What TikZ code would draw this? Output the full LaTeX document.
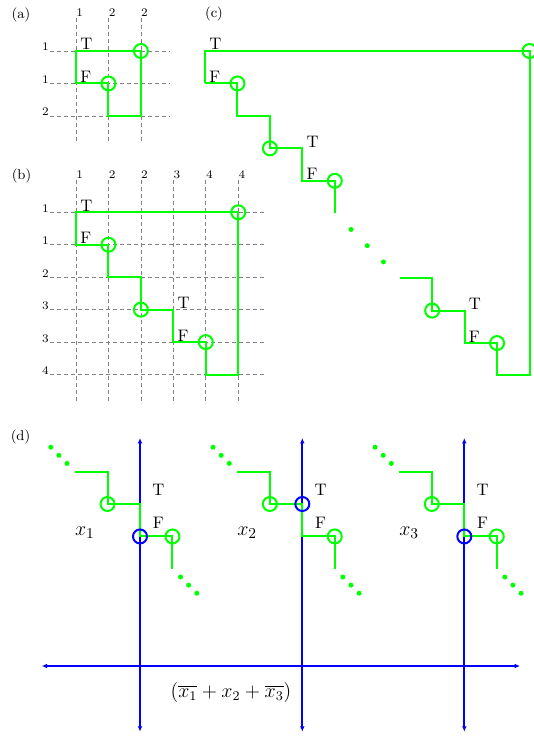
\documentclass[tikz,border=0pt]{standalone}
\usetikzlibrary{arrows.meta}
\newcommand\dgrp[4]{%
\begin{scope}[shift={(#1,504)}, x=19.47pt, y=-19.47pt]
 \draw[gline] (-2,-1) -- (-1,-1) -- (-1,0) -- (0,0) -- (0,1) -- (1,1) -- (1,2);
 \node[gcirc] (#4c1) at (-1,0) {};
 \node[gcirc] (#4c2) at (1,1) {};
 \node[bcirc] (#4b) at (0,#2) {};
 \foreach \t in {0,1,2} {
   \node[gdot] (#4u\t) at ({-2.75+0.25*\t},{-1.75+0.25*\t}) {};
   \node[gdot] (#4l\t) at ({1.25+0.25*\t},{2.25+0.25*\t}) {};
 }
 \node[dlab] (#4T) at (0.565,-0.43) {T};
 \node[dlab] (#4F) at (0.565,0.57) {F};
 \node[font=\fontsize{12.5}{15}\selectfont, inner sep=0] (#4x) at (-1.7,0.88) {$#3$};
\end{scope}}
\begin{document}
\begin{tikzpicture}[x=0.6pt,y=-0.6pt,
  gline/.style={draw=green, line width=1.2pt},
  gridl/.style={draw=gray, line width=0.45pt, dash pattern=on 2.4pt off 1.8pt},
  gcirc/.style={circle, draw=green, line width=1.2pt, minimum size=8.4pt, inner sep=0},
  bcirc/.style={circle, draw=blue, line width=1.2pt, minimum size=8.4pt, inner sep=0},
  gdot/.style={circle, fill=green, minimum size=3pt, inner sep=0},
  lab/.style={anchor=base west, inner sep=0, xshift=2.4pt, yshift=0.6pt, font=\fontsize{10}{12}\selectfont},
  dlab/.style={inner sep=0, font=\fontsize{10}{12}\selectfont},
  collab/.style={anchor=south west, inner sep=0, yshift=0.6pt, font=\fontsize{7}{8}\selectfont},
  rowlab/.style={anchor=base east, inner sep=0, xshift=-0.6pt, font=\fontsize{7}{8}\selectfont},
  panel/.style={inner sep=0, font=\fontsize{8.5}{10}\selectfont},
  axisl/.style={draw=blue, line width=1.2pt, arrows={Latex[length=3.2pt,width=2.8pt]-Latex[length=3.2pt,width=2.8pt]}},
]
\useasboundingbox (0,0) rectangle (533,736);

% panel labels
\node[panel] (pa) at (21,15) {(a)};
\node[panel] (pb) at (21.5,175.5) {(b)};
\node[panel] (pc) at (214,14) {(c)};
\node[panel] (pd) at (20.5,436.5) {(d)};

% ---------- (a)
\begin{scope}[shift={(76,51)}, x=19.47pt, y=-19.47pt]
 \foreach \i/\l in {0/1,1/2,2/2} {
   \draw[gridl] (\i,-1.02) -- (\i,2.84);
   \node[collab] (ac\i) at (\i,-1.02) {\l};
 }
 \foreach \j/\l in {0/1,1/1,2/2} {
   \draw[gridl] (-0.8,\j) -- (2.9,\j);
   \node[rowlab] (ar\j) at (-0.8,\j) {\l};
 }
 \draw[gline] (0,1) -- (0,0) -- (2,0) -- (2,2) -- (1,2) -- (1,1) -- cycle;
 \node[gcirc] (a1) at (2,0) {};
 \node[gcirc] (a2) at (1,1) {};
 \node[lab] (aT) at (0,0) {T};
 \node[lab] (aF) at (0,1) {F};
\end{scope}

% ---------- (b)
\begin{scope}[shift={(76,212.3)}, x=19.47pt, y=-19.47pt]
 \foreach \i/\l in {0/1,1/2,2/2,3/3,4/4,5/4} {
   \draw[gridl] (\i,-1.0) -- (\i,5.88);
   \node[collab] (bc\i) at (\i,-1.0) {\l};
 }
 \foreach \j/\l in {0/1,1/1,2/2,3/3,4/3,5/4} {
   \draw[gridl] (-0.8,\j) -- (5.88,\j);
   \node[rowlab] (br\j) at (-0.8,\j) {\l};
 }
 \draw[gline] (0,1) -- (0,0) -- (5,0) -- (5,5) -- (4,5) -- (4,4) -- (3,4) -- (3,3) -- (2,3) -- (2,2) -- (1,2) -- (1,1) -- cycle;
 \node[gcirc] (b1) at (5,0) {};
 \node[gcirc] (b2) at (4,4) {};
 \node[gcirc] (b3) at (2,3) {};
 \node[gcirc] (b4) at (1,1) {};
 \node[lab] (bT1) at (0,0) {T};
 \node[lab] (bF1) at (0,1) {F};
 \node[lab] (bT2) at (3,3) {T};
 \node[lab] (bF2) at (3,4) {F};
\end{scope}

% ---------- (c)
\begin{scope}[shift={(205,51)}, x=19.47pt, y=-19.47pt]
 \draw[gline] (0,1) -- (0,0) -- (10,0) -- (10,10) -- (9,10) -- (9,9) -- (8,9) -- (8,8) -- (7,8) -- (7,7) -- (6,7);
 \draw[gline] (0,1) -- (1,1) -- (1,2) -- (2,2) -- (2,3) -- (3,3) -- (3,4) -- (4,4) -- (4,5);
 \node[gcirc] (c1) at (10,0) {};
 \node[gcirc] (c2) at (1,1) {};
 \node[gcirc] (c3) at (2,3) {};
 \node[gcirc] (c4) at (4,4) {};
 \node[gcirc] (c5) at (7,8) {};
 \node[gcirc] (c6) at (9,9) {};
 \foreach \t in {0,1,2} { \node[gdot] (cd\t) at ({4.5+0.5*\t},{5.5+0.5*\t}) {}; }
 \node[lab] (cT1) at (0,0) {T};
 \node[lab] (cF1) at (0,1) {F};
 \node[lab] (cT2) at (3,3) {T};
 \node[lab] (cF2) at (3,4) {F};
 \node[lab] (cT3) at (8,8) {T};
 \node[lab] (cF3) at (8,9) {F};
\end{scope}

% ---------- (d)
\coordinate (h1) at (41.7,666);
\coordinate (h2) at (520,666);
\draw[axisl] (h1) -- (h2);
\foreach \a/\n in {140/v1,302.3/v2,464.3/v3} {
  \coordinate (\n t) at (\a,438);
  \coordinate (\n b) at (\a,731.7);
  \draw[axisl] (\n b) -- (\n t);
}
\dgrp{140}{1}{x_1}{g1}
\dgrp{302.3}{0}{x_2}{g2}
\dgrp{464.3}{1}{x_3}{g3}
\node[font=\fontsize{12}{14}\selectfont, inner sep=0] (form) at (231,692) {$(\overline{x_1}+x_2+\overline{x_3})$};
\end{tikzpicture}
\end{document}
